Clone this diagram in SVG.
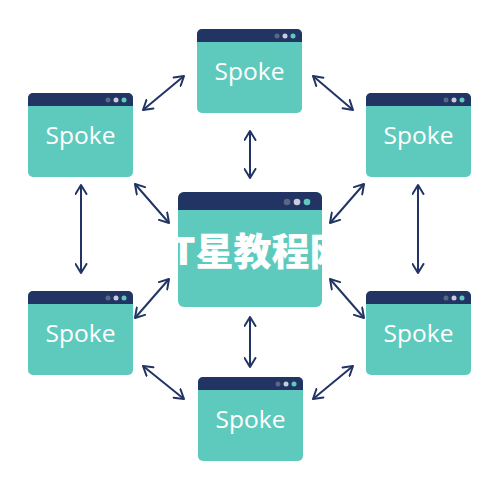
<svg xmlns="http://www.w3.org/2000/svg" width="500" height="500" viewBox="0 0 500 500">
<defs>
<style>
.body{fill:#5ecabd}
.head{fill:#213464}
.d1{fill:#5b6682}
.d2{fill:#c9cdd8}
.d3{fill:#5ecabd}
.lbl{font-family:"Open Sans","Noto Sans",sans-serif;font-size:24.5px;fill:#ffffff;text-anchor:middle}
.wm{font-family:"Noto Sans CJK SC","Noto Sans",sans-serif;font-weight:900;font-size:38px;fill:#ffffff}
.conn line{stroke:#213464;stroke-width:2;fill:none;marker-start:url(#ah);marker-end:url(#ah)}
</style>
<marker id="ah" viewBox="0 0 11 13" refX="10" refY="6.5" markerWidth="11" markerHeight="13" markerUnits="userSpaceOnUse" orient="auto-start-reverse">
<path d="M1,1 L10,6.5 L1,12" fill="none" stroke="#213464" stroke-width="2" stroke-linecap="round" stroke-linejoin="round"/>
</marker>
<clipPath id="wmclip"><rect x="168" y="220" width="160" height="60"/></clipPath>
</defs>
<rect width="500" height="500" fill="#ffffff"/>

<g class="conn" id="connectors">
<line x1="143" y1="110" x2="184" y2="76"/>
<line x1="313" y1="76" x2="353" y2="110"/>
<line x1="250" y1="131" x2="250" y2="178"/>
<line x1="81" y1="185" x2="81" y2="273"/>
<line x1="418" y1="185" x2="418" y2="273"/>
<line x1="135" y1="184" x2="169" y2="223"/>
<line x1="364" y1="184" x2="330" y2="223"/>
<line x1="169" y1="279" x2="135" y2="318"/>
<line x1="330" y1="279" x2="364" y2="318"/>
<line x1="250" y1="317" x2="250" y2="367"/>
<line x1="143" y1="366" x2="184" y2="399"/>
<line x1="353" y1="366" x2="313" y2="399"/>
</g>

<g id="hub">
<rect class="body" x="178" y="192" width="144" height="115" rx="6"/>
<path class="head" d="M184,192 H316 A6,6 0 0 1 322,198 V210 H178 V198 A6,6 0 0 1 184,192 Z"/>
<circle class="d1" cx="287" cy="202" r="3.3"/>
<circle class="d2" cx="297" cy="202" r="3.3"/>
<circle class="d3" cx="307" cy="202" r="3.3"/>
<g clip-path="url(#wmclip)"><text class="wm" x="158" y="265">IT星教程网</text></g>
</g>

<g id="spoke-top">
<rect class="body" x="197" y="29" width="105" height="84" rx="5"/>
<path class="head" d="M202,29 H297 A5,5 0 0 1 302,34 V42 H197 V34 A5,5 0 0 1 202,29 Z"/>
<circle class="d1" cx="277" cy="36" r="2.5"/>
<circle class="d2" cx="285" cy="36" r="2.5"/>
<circle class="d3" cx="293" cy="36" r="2.5"/>
<text class="lbl" x="249.5" y="80">Spoke</text>
</g>

<g id="spoke-top-left">
<rect class="body" x="28" y="93" width="105" height="84" rx="5"/>
<path class="head" d="M33,93 H128 A5,5 0 0 1 133,98 V106 H28 V98 A5,5 0 0 1 33,93 Z"/>
<circle class="d1" cx="108" cy="100" r="2.5"/>
<circle class="d2" cx="116" cy="100" r="2.5"/>
<circle class="d3" cx="124" cy="100" r="2.5"/>
<text class="lbl" x="80.5" y="144">Spoke</text>
</g>

<g id="spoke-top-right">
<rect class="body" x="366" y="93" width="105" height="84" rx="5"/>
<path class="head" d="M371,93 H466 A5,5 0 0 1 471,98 V106 H366 V98 A5,5 0 0 1 371,93 Z"/>
<circle class="d1" cx="446" cy="100" r="2.5"/>
<circle class="d2" cx="454" cy="100" r="2.5"/>
<circle class="d3" cx="462" cy="100" r="2.5"/>
<text class="lbl" x="418.5" y="144">Spoke</text>
</g>

<g id="spoke-bottom-left">
<rect class="body" x="28" y="291" width="105" height="84" rx="5"/>
<path class="head" d="M33,291 H128 A5,5 0 0 1 133,296 V304 H28 V296 A5,5 0 0 1 33,291 Z"/>
<circle class="d1" cx="108" cy="298" r="2.5"/>
<circle class="d2" cx="116" cy="298" r="2.5"/>
<circle class="d3" cx="124" cy="298" r="2.5"/>
<text class="lbl" x="80.5" y="342">Spoke</text>
</g>

<g id="spoke-bottom-right">
<rect class="body" x="366" y="291" width="105" height="84" rx="5"/>
<path class="head" d="M371,291 H466 A5,5 0 0 1 471,296 V304 H366 V296 A5,5 0 0 1 371,291 Z"/>
<circle class="d1" cx="446" cy="298" r="2.5"/>
<circle class="d2" cx="454" cy="298" r="2.5"/>
<circle class="d3" cx="462" cy="298" r="2.5"/>
<text class="lbl" x="418.5" y="342">Spoke</text>
</g>

<g id="spoke-bottom">
<rect class="body" x="198" y="377" width="105" height="84" rx="5"/>
<path class="head" d="M203,377 H298 A5,5 0 0 1 303,382 V390 H198 V382 A5,5 0 0 1 203,377 Z"/>
<circle class="d1" cx="278" cy="384" r="2.5"/>
<circle class="d2" cx="286" cy="384" r="2.5"/>
<circle class="d3" cx="294" cy="384" r="2.5"/>
<text class="lbl" x="250.5" y="428">Spoke</text>
</g>
</svg>
